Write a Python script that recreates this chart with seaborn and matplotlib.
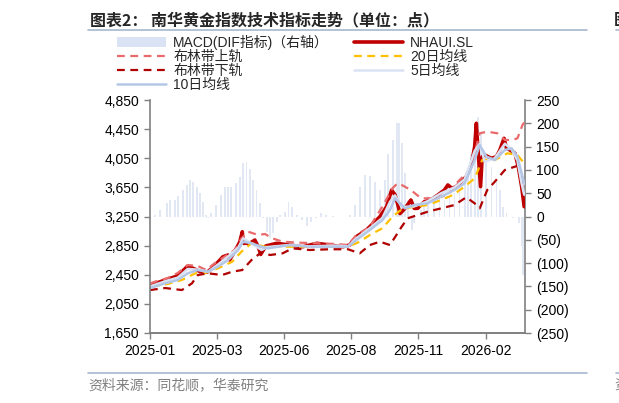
import matplotlib
matplotlib.use("Agg")
import matplotlib.pyplot as plt
from matplotlib.lines import Line2D
from matplotlib.patches import Patch
import pandas as pd
import seaborn as sns

# 数据 (按图读出的近似值, x = 2025-01-01 之后的天数)
start = pd.Timestamp("2025-01-01")

close_days = [0, 10, 18, 30, 38, 45, 51, 60, 68, 74, 80, 87, 93, 95, 104, 107, 110, 111, 119, 125,
              129, 132, 138, 151, 167, 182, 199, 214, 230, 238, 246, 258, 262, 274, 282, 288, 292,
              295, 298, 304, 311, 315, 319, 327, 335, 343, 351, 355, 360, 365, 371, 377, 383, 387,
              389, 391, 394, 396, 399, 407, 413, 417, 422, 425, 429, 435, 439, 443, 446]
close_vals = [2310, 2345, 2378, 2423, 2490, 2570, 2540, 2492, 2485, 2540, 2611, 2698, 2721, 2652,
              2835, 2900, 3041, 2882, 2882, 2927, 2835, 2730, 2845, 2882, 2858, 2835, 2882, 2858,
              2835, 2858, 2973, 3064, 3110, 3247, 3385, 3614, 3550, 3430, 3290, 3362, 3477, 3362,
              3362, 3453, 3477, 3545, 3614, 3683, 3637, 3660, 3728, 3797, 3957, 4209, 4530, 4163,
              3660, 4072, 4095, 4049, 4072, 4163, 4324, 4186, 4163, 4118, 3934, 3660, 3385]

upper_days = [0, 6, 21, 33, 45, 57, 67, 77, 89, 101, 109, 117, 129, 137, 146, 158, 179, 202, 223,
              236, 246, 262, 277, 289, 295, 300, 311, 323, 339, 355, 367, 379, 387, 393, 402, 414,
              423, 432, 438, 444, 446]
upper_vals = [2330, 2355, 2405, 2474, 2584, 2570, 2515, 2607, 2698, 2790, 2950, 3041, 2996, 3010,
              2950, 2904, 2890, 2882, 2872, 2858, 2996, 3110, 3385, 3637, 3706, 3683, 3614, 3500,
              3500, 3545, 3728, 3865, 4118, 4393, 4415, 4393, 4301, 4301, 4324, 4507, 4540]

lower_days = [0, 18, 38, 50, 57, 69, 86, 98, 110, 121, 133, 143, 158, 170, 190, 214, 236, 250, 262,
              274, 286, 295, 300, 307, 319, 331, 347, 363, 377, 387, 393, 402, 411, 423, 435, 440, 445]
lower_vals = [2240, 2268, 2240, 2332, 2446, 2470, 2446, 2492, 2515, 2652, 2760, 2721, 2744, 2813,
              2790, 2800, 2800, 2744, 2858, 2904, 2858, 3019, 3110, 3225, 3270, 3316, 3362, 3408,
              3514, 3431, 3362, 3614, 3728, 3889, 3934, 3957, 3960]

ma20_days = [2, 21, 38, 54, 65, 81, 98, 109, 121, 137, 155, 182, 214, 236, 250, 262, 277, 289, 298,
             304, 315, 331, 347, 361, 375, 387, 396, 411, 426, 438, 446]
ma20_vals = [2286, 2323, 2378, 2470, 2470, 2538, 2629, 2767, 2882, 2835, 2835, 2835, 2835, 2835,
             2904, 2996, 3088, 3247, 3330, 3362, 3385, 3408, 3477, 3545, 3660, 3774, 4026, 4026,
             4118, 4095, 3980]

ma10_days = [0, 18, 33, 45, 57, 69, 81, 93, 105, 111, 121, 133, 140, 167, 190, 223, 236, 246, 262,
             277, 286, 292, 304, 315, 331, 347, 363, 375, 387, 393, 401, 411, 423, 431, 438, 444, 446]
ma10_vals = [2268, 2332, 2378, 2470, 2515, 2492, 2561, 2652, 2790, 2904, 2882, 2835, 2813, 2858,
             2835, 2835, 2835, 2927, 3064, 3201, 3339, 3500, 3362, 3408, 3431, 3522, 3614, 3706,
             4026, 4232, 4072, 4026, 4163, 4186, 4072, 3797, 3700]

ma5_days = [0, 18, 33, 45, 57, 69, 81, 93, 105, 111, 121, 133, 140, 167, 190, 223, 236, 246, 262,
            277, 286, 292, 300, 315, 331, 347, 363, 375, 387, 393, 399, 411, 423, 431, 438, 443, 446]
ma5_vals = [2290, 2360, 2410, 2530, 2520, 2490, 2590, 2700, 2820, 2950, 2880, 2790, 2830, 2860,
            2840, 2850, 2840, 2950, 3090, 3230, 3450, 3540, 3380, 3390, 3460, 3570, 3650, 3760,
            4150, 4250, 4000, 4050, 4250, 4170, 4020, 3700, 3550]

macd_days = [0, 6, 12, 20, 24, 30, 33, 39, 44, 48, 51, 56, 60, 63, 67, 69, 73, 79, 85, 89, 93, 97,
             103, 107, 111, 115, 119, 123, 127, 131, 135, 139, 143, 147, 151, 155, 161, 165, 169,
             175, 181, 187, 192, 198, 204, 210, 218, 224, 230, 238, 244, 250, 256, 262, 268, 274,
             280, 284, 290, 294, 297, 300, 304, 308, 312, 315, 319, 323, 327, 331, 339, 345, 351,
             357, 363, 369, 375, 379, 383, 387, 391, 395, 401, 407, 413, 417, 421, 425, 429, 433,
             437, 440, 443, 445]
macd_vals = [0, 3, 15, 28, 35, 35, 43, 57, 67, 78, 75, 64, 50, 32, 3, -4, 7, 25, 46, 64, 64, 64,
             71, 85, 114, 118, 103, 78, 57, 28, -4, -33, -47, -36, -11, 3, 10, 32, 21, 3, -8, -20,
             -11, -4, 7, 3, 1, -1, -2, 3, 25, 64, 89, 86, 75, 57, 78, 135, 164, 200, 200, 157, 93,
             35, -29, -15, 0, 14, 35, 43, 35, 43, 35, 43, 50, 57, 71, 93, 135, 193, 214, 179, 135,
             107, 78, 57, 21, 7, 0, -4, 0, -14, -64, -125]

tick_days = [0, 80, 160, 240, 320, 400]
tick_labels = ["2025-01", "2025-03", "2025-06", "2025-08", "2025-11", "2026-02"]
left_ticks = [1650, 2050, 2450, 2850, 3250, 3650, 4050, 4450, 4850]
right_ticks = [-250, -200, -150, -100, -50, 0, 50, 100, 150, 200, 250]


def to_dates(days):
    return start + pd.to_timedelta(days, unit="D")


sns.set_style("ticks")
plt.rcParams["font.family"] = ["Liberation Sans", "Noto Sans CJK SC"]
plt.rcParams["axes.unicode_minus"] = False

fig = plt.figure(figsize=(6.19, 4.03), dpi=100)
ax2 = fig.add_axes([150 / 619, 70 / 403, 375 / 619, 233 / 403])
ax = ax2.twinx()
ax.yaxis.tick_left()
ax.yaxis.set_label_position("left")
ax2.yaxis.tick_right()

# MACD 柱 (右轴)
ax2.bar(to_dates(macd_days), macd_vals, width=2.2, color="#E1E8F4", linewidth=0)
ax2.set_ylim(-250, 250)
ax2.set_yticks(right_ticks)
ax2.set_yticklabels([f"({abs(v)})" if v < 0 else f"{v}" for v in right_ticks])

# 折线 (左轴)
sns.lineplot(x=to_dates(close_days), y=close_vals, ax=ax, color="#C00000", lw=2.6)
sns.lineplot(x=to_dates(upper_days), y=upper_vals, ax=ax, color="#EA6A6C", lw=1.6,
             linestyle=(0, (3.5, 2.5)))
sns.lineplot(x=to_dates(ma20_days), y=ma20_vals, ax=ax, color="#FFC000", lw=1.6,
             linestyle=(0, (3.5, 2.5)))
sns.lineplot(x=to_dates(lower_days), y=lower_vals, ax=ax, color="#B00000", lw=1.6,
             linestyle=(0, (3.5, 2.5)))
sns.lineplot(x=to_dates(ma5_days), y=ma5_vals, ax=ax, color="#DAE3F3", lw=1.8)
sns.lineplot(x=to_dates(ma10_days), y=ma10_vals, ax=ax, color="#B4C7E7", lw=1.8)

ax.set_ylim(1650, 4850)
ax.set_yticks(left_ticks)
ax.set_yticklabels([f"{v:,}" for v in left_ticks])
ax.set_xlim(to_dates([0])[0], to_dates([447])[0])
ax2.set_xticks(to_dates(tick_days))
ax2.set_xticklabels(tick_labels)
ax.set_xlabel("")
ax.set_ylabel("")

for a in (ax, ax2):
    a.spines["top"].set_visible(False)
    for side in ("left", "right", "bottom"):
        a.spines[side].set_color("#808080")
        a.spines[side].set_linewidth(1.2)
    a.tick_params(colors="#808080", labelcolor="black", labelsize=10, length=4, width=1, pad=4)
ax.spines["right"].set_visible(False)
ax2.spines["left"].set_visible(False)
ax.tick_params(axis="x", bottom=False, labelbottom=False)

# 图例
dash = (0, (3.5, 2.5))
handles = [
    Patch(facecolor="#DAE3F3", edgecolor="none"),
    Line2D([], [], color="#EA6A6C", lw=1.6, linestyle=dash),
    Line2D([], [], color="#B00000", lw=1.6, linestyle=dash),
    Line2D([], [], color="#B4C7E7", lw=1.8),
    Line2D([], [], color="#C00000", lw=2.6),
    Line2D([], [], color="#FFC000", lw=1.6, linestyle=dash),
    Line2D([], [], color="#DAE3F3", lw=1.8),
]
labels = ["MACD(DIF指标)（右轴）", "布林带上轨", "布林带下轨", "10日均线",
          "NHAUI.SL", "20日均线", "5日均线"]
fig.legend(handles, labels, ncol=2, loc="upper left", bbox_to_anchor=(117 / 619, 1 - 35 / 403),
           frameon=False, fontsize=10, handlelength=3.5, handletextpad=0.55,
           columnspacing=1.8, labelspacing=0.0, borderpad=0, borderaxespad=0)

# 标题与来源
fig.text(90 / 619, 1 - 20 / 403, "图表2： 南华黄金指数技术指标走势（单位：点）",
         fontsize=11.5, fontweight="bold", family=["Noto Sans CJK SC"], va="center", ha="left")
fig.add_artist(Line2D([88 / 619, 587 / 619], [1 - 30 / 403] * 2, color="#A6B8D0", lw=1.2))
fig.add_artist(Line2D([88 / 619, 587 / 619], [1 - 373 / 403] * 2, color="#A6B8D0", lw=1.2))
fig.text(88 / 619, 1 - 385 / 403, "资料来源：同花顺，华泰研究", fontsize=10, color="#808080",
         family=["Noto Sans CJK SC"], va="center", ha="left")
# 右侧相邻图表的边缘 (原图中同样被裁切)
fig.add_artist(Line2D([616 / 619, 1.0], [1 - 30 / 403] * 2, color="#A6B8D0", lw=1.2))
fig.add_artist(Line2D([616 / 619, 1.0], [1 - 373 / 403] * 2, color="#A6B8D0", lw=1.2))
fig.text(614 / 619, 1 - 20 / 403, "图", fontsize=11.5, fontweight="bold",
         family=["Noto Sans CJK SC"], va="center", ha="left")
fig.text(614 / 619, 1 - 385 / 403, "资", fontsize=10, color="#808080",
         family=["Noto Sans CJK SC"], va="center", ha="left")

fig.savefig("out.png", dpi=100)
